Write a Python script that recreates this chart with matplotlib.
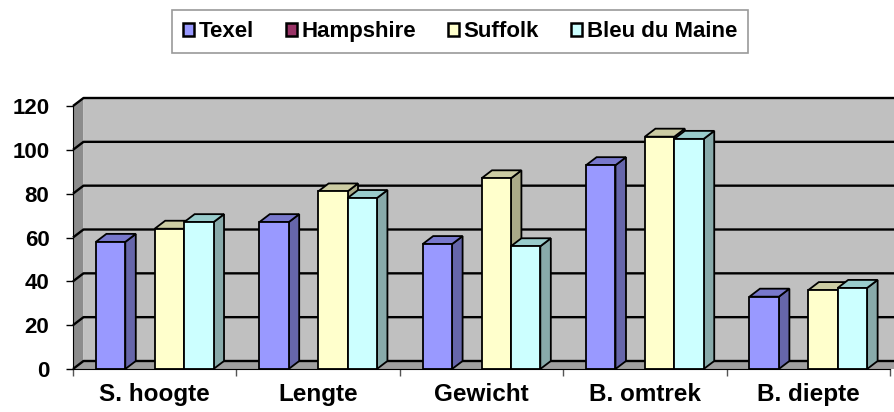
import numpy as np
import matplotlib
matplotlib.use("Agg")
import matplotlib.pyplot as plt
from matplotlib.patches import Polygon, Rectangle, Patch

plt.rcParams['font.family'] = ['Liberation Sans', 'DejaVu Sans']
plt.rcParams['font.weight'] = 'bold'

categories = ["S. hoogte", "Lengte", "Gewicht", "B. omtrek", "B. diepte"]
series_names = ["Texel", "Hampshire", "Suffolk", "Bleu du Maine"]
texel = [58, 67, 57, 93, 33]
hampshire = [np.nan, np.nan, np.nan, np.nan, np.nan]
suffolk = [64, 81, 87, 106, 36]
bleu_du_maine = [67, 78, 56, 105, 37]
y_ticks = [0, 20, 40, 60, 80, 100, 120]

# front, side and top shades of each series
front_colors = ["#9999FF", "#993366", "#FFFFCC", "#CCFFFF"]
side_colors = ["#6666AA", "#662244", "#AAAA88", "#88AAAA"]
top_colors = ["#7878CC", "#7A2952", "#CCCCA3", "#99CCCC"]

W, H = 894, 412
fig = plt.figure(figsize=(W / 100, H / 100), dpi=100)
fig.patch.set_facecolor("white")

# front plane of the plot, in pixels
left_px, right_px, bottom_px, top_px = 73, 890, 369, 106
ax = fig.add_axes([left_px / W, (H - bottom_px) / H,
                   (right_px - left_px) / W, (bottom_px - top_px) / H])
ax.set_xlim(0, len(categories))
ax.set_ylim(0, 120)
ax.patch.set_visible(False)

# depth offset of the 3D box, converted to data units
sx = len(categories) / (right_px - left_px)
sy = 120 / (bottom_px - top_px)
dx, dy = 10.5 * sx, 8 * sy
n = len(categories)

# walls and floor
ax.add_patch(Rectangle((dx, dy), n + 1, 120, facecolor="#C0C0C0",
                       edgecolor="none", clip_on=False, zorder=0))
ax.add_patch(Polygon([(0, 0), (dx, dy), (dx, 120 + dy), (0, 120)],
                     facecolor="#8C8C8C", edgecolor="none", clip_on=False, zorder=0.1))
ax.add_patch(Polygon([(0, 0), (n + 1, 0), (n + 1 + dx, dy), (dx, dy)],
                     facecolor="#A0A0A0", edgecolor="none", clip_on=False, zorder=0.1))

# gridlines running over the side wall and the back wall
for v in y_ticks:
    ax.plot([0, dx, n + 1], [v, v + dy, v + dy], color="black", lw=1.7,
            clip_on=False, zorder=0.5, solid_capstyle="butt")

bar_w = 0.18
group_start = 0.14
all_series = [texel, hampshire, suffolk, bleu_du_maine]
x_idx = np.arange(n)
for j, vals in enumerate(all_series):
    vals = np.asarray(vals, dtype=float)
    x0 = x_idx + group_start + j * bar_w
    bars = ax.bar(x0, vals, width=bar_w, align="edge", color=front_colors[j],
                  edgecolor="black", linewidth=1.3, clip_on=False)
    for i, (rect, v) in enumerate(zip(bars, vals)):
        order = 3 + (i * 4 + j) * 0.01
        rect.set_zorder(order + 0.005)
        if np.isnan(v):
            continue
        xa, xb = x0[i], x0[i] + bar_w
        ax.add_patch(Polygon([(xb, 0), (xb + dx, dy), (xb + dx, v + dy), (xb, v)],
                             facecolor=side_colors[j], edgecolor="black",
                             linewidth=1.3, clip_on=False, zorder=order))
        ax.add_patch(Polygon([(xa, v), (xb, v), (xb + dx, v + dy), (xa + dx, v + dy)],
                             facecolor=top_colors[j], edgecolor="black",
                             linewidth=1.3, clip_on=False, zorder=order))

# axes
for s in ["top", "right"]:
    ax.spines[s].set_visible(False)
ax.spines["left"].set_color("black")
ax.spines["bottom"].set_color("black")
ax.spines["left"].set_zorder(10)
ax.spines["bottom"].set_zorder(10)
ax.set_yticks(y_ticks)
ax.set_yticklabels([str(t) for t in y_ticks], fontsize=16, fontweight="bold")
ax.tick_params(axis="y", direction="out", length=5, width=1, pad=12)
ax.set_xticks(np.arange(n + 1))
ax.set_xticklabels([])
ax.tick_params(axis="x", which="major", direction="out", length=5, width=1,
               color="#555555")
ax.set_xticks(x_idx + 0.5, minor=True)
ax.set_xticklabels(categories, minor=True, fontsize=17.5, fontweight="bold")
ax.tick_params(axis="x", which="minor", length=0, pad=10)

handles = [Patch(facecolor=c, edgecolor="black", linewidth=1.8) for c in front_colors]
leg = fig.legend(handles, series_names, loc="upper center", ncol=4,
                 bbox_to_anchor=(460 / W, 1 - 10 / H), frameon=True, fancybox=False,
                 prop={"size": 16, "weight": "bold"}, handlelength=0.5,
                 handleheight=0.5, handletextpad=0.2, columnspacing=1.45,
                 borderpad=0.5, borderaxespad=0)
leg.get_frame().set_edgecolor("#808080")
leg.get_frame().set_linewidth(1.2)

fig.savefig("out.png", dpi=100, facecolor="white")
